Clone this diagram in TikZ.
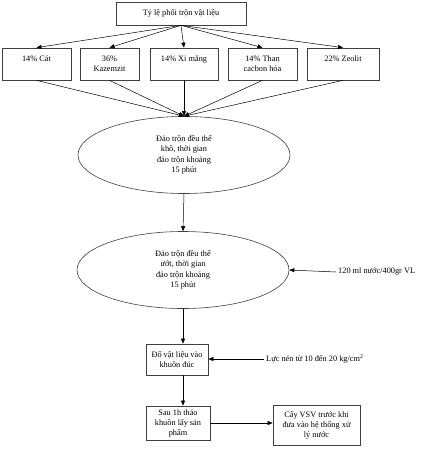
\documentclass[tikz,border=0pt]{standalone}
\usepackage{fontspec}
\setmainfont{Liberation Serif}
\usetikzlibrary{arrows.meta,positioning,calc,shapes.geometric}
\tikzset{
  mixbox/.style={draw=black!75,line width=0.7pt,align=center,inner sep=1pt,
                 font=\fontsize{8.3}{10}\selectfont},
  mixrow/.style={mixbox,minimum height=32pt},
  mixell/.style={ellipse,draw=black!75,line width=0.6pt,align=center,inner sep=0pt,
                 minimum width=212pt,minimum height=77pt,font=\fontsize{8.3}{10.5}\selectfont},
  mixnote/.style={inner sep=2pt,font=\fontsize{8.3}{10}\selectfont},
  mixarr/.style={-{Triangle[length=5pt,width=4pt]},line width=0.5pt},
}

\begin{document}
\begin{tikzpicture}[x=1pt,y=-1pt]
  \useasboundingbox (0,0) rectangle (432,455);
  \node[mixbox,minimum width=130pt,minimum height=23pt] (mix) at (181,13.5) {Tỷ lệ phối trộn vật liệu};
  % row of materials
  \node[mixrow,minimum width=69pt] (cat) at (36.5,64) {14\% Cát\\\mbox{}};
  \node[mixrow,minimum width=59pt] (kaz) at (109.5,64) {36\%\\Kazemzit};
  \node[mixrow,minimum width=68pt] (xim) at (184,64) {14\% Xi măng\\\mbox{}};
  \node[mixrow,minimum width=69pt] (than) at (262.5,64) {14\% Than\\cacbon hóa};
  \node[mixrow,minimum width=72pt] (zeo) at (343,64) {22\% Zeolit\\\mbox{}};
  % mixing steps
  \node[mixell] (dry) at (184,155) {Đảo trộn đều thể\\khô, thời gian\\đảo trộn khoảng\\15 phút};
  \node[mixell] (wet) at (183,270) {Đảo trộn đều thể\\ướt, thời gian\\đảo trộn khoảng\\15 phút};
  \node[mixnote,anchor=west] (water) at (336,272) {120 ml nước/400gr VL};
  \node[mixbox,minimum width=62pt,minimum height=31pt] (pour) at (177,359.5) {Đổ vật liệu vào\\khuôn đúc};
  \node[mixnote,anchor=west] (press) at (264,359) {Lực nén từ 10 đến 20 kg/cm\textsuperscript{2}};
  \node[mixbox,minimum width=64pt,minimum height=34pt] (demold) at (178,423) {Sau 1h tháo\\khuôn lấy sản\\phẩm};
  \node[mixbox,minimum width=87pt,minimum height=40pt] (inoc) at (316.5,425) {Cấy VSV trước khi\\đưa vào hệ thống xử\\lý nước};
  \foreach \m in {cat,kaz,xim,than,zeo}{
    \draw[mixarr] (mix.south) -- (\m.north);
    \draw[mixarr] (\m.south) -- (dry.north);
  }
  \draw[mixarr] (dry.south) -- (wet.north);
  \draw[mixarr] (water.west) -- (wet.east);
  \draw[mixarr] (wet.south) -- (wet.south |- pour.north);
  \draw[mixarr] (press.west) -- (pour.east |- press.west);
  \draw[mixarr] (pour.south -| wet.south) -- (wet.south |- demold.north);
  \draw[mixarr] (demold.east) -- (demold.east -| inoc.west);
\end{tikzpicture}
\end{document}
